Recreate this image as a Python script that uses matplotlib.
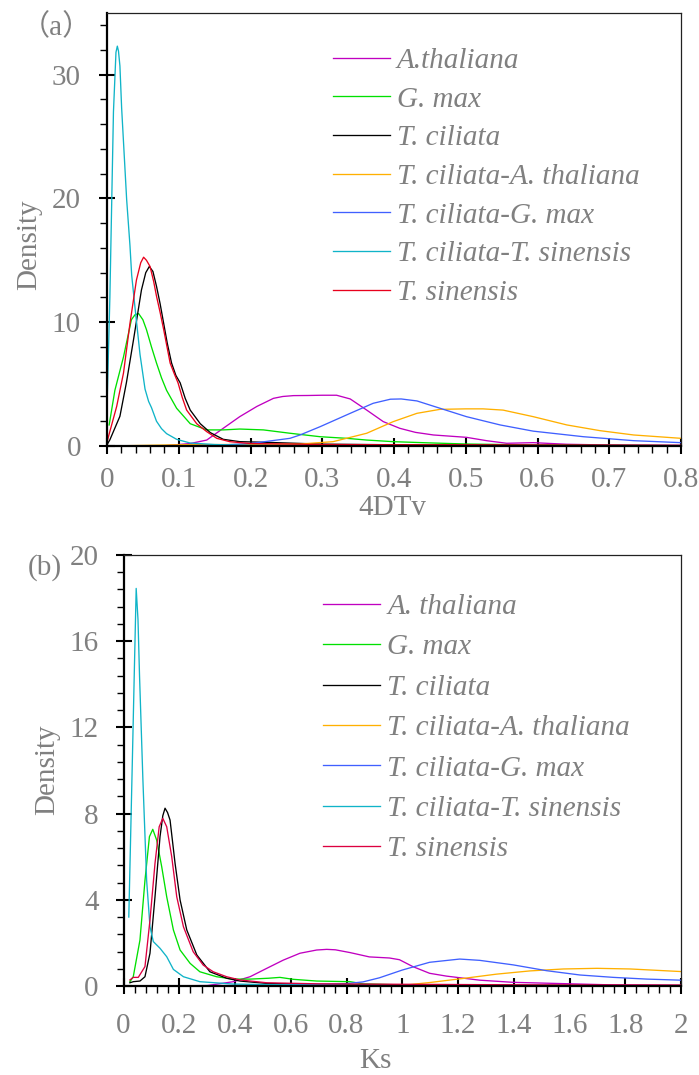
import matplotlib
matplotlib.use("Agg")
import matplotlib.pyplot as plt
from matplotlib.ticker import MultipleLocator, FixedLocator

# ---------------- data: panel (a) 4DTv ----------------
labels_a = ["A.thaliana", "G. max", "T. ciliata", "T. ciliata-A. thaliana",
            "T. ciliata-G. max", "T. ciliata-T. sinensis", "T. sinensis"]

a_ath_x = [0.018, 0.08, 0.116, 0.139, 0.162, 0.185, 0.209, 0.232, 0.245, 0.26, 0.28, 0.3, 0.32, 0.339, 0.362, 0.385, 0.408, 0.43, 0.455, 0.501, 0.529, 0.557, 0.594, 0.641, 0.7, 0.8]
a_ath_y = [0.0, 0.02, 0.2, 0.48, 1.43, 2.37, 3.2, 3.85, 4.0, 4.07, 4.08, 4.1, 4.1, 3.8, 2.9, 1.97, 1.43, 1.1, 0.89, 0.7, 0.43, 0.22, 0.27, 0.14, 0.08, 0.05]

a_gma_x = [0.003, 0.011, 0.023, 0.034, 0.039, 0.044, 0.05, 0.055, 0.062, 0.069, 0.076, 0.083, 0.097, 0.116, 0.139, 0.162, 0.185, 0.218, 0.255, 0.297, 0.334, 0.362, 0.399, 0.45, 0.501, 0.6, 0.7, 0.8]
a_gma_y = [1.7, 4.5, 7.2, 10.2, 10.6, 10.7, 10.2, 9.4, 8.0, 6.7, 5.5, 4.5, 3.05, 1.8, 1.3, 1.3, 1.37, 1.3, 1.03, 0.75, 0.62, 0.48, 0.35, 0.25, 0.16, 0.08, 0.05, 0.03]

a_tci_x = [0.0, 0.004, 0.018, 0.027, 0.037, 0.048, 0.054, 0.059, 0.064, 0.069, 0.074, 0.079, 0.084, 0.09, 0.096, 0.102, 0.109, 0.116, 0.13, 0.144, 0.162, 0.185, 0.22, 0.3, 0.4, 0.5, 0.6, 0.8]
a_tci_y = [0.1, 0.5, 2.4, 5.1, 8.6, 12.6, 14.0, 14.5, 14.1, 12.9, 11.5, 9.9, 8.3, 6.7, 5.7, 5.1, 3.85, 2.9, 1.8, 1.08, 0.54, 0.35, 0.3, 0.15, 0.1, 0.08, 0.05, 0.03]

a_tci_ath_x = [0.0, 0.1, 0.2, 0.269, 0.315, 0.362, 0.399, 0.432, 0.464, 0.5, 0.524, 0.552, 0.594, 0.641, 0.687, 0.734, 0.8]
a_tci_ath_y = [0.0, 0.1, 0.13, 0.16, 0.35, 1.03, 1.97, 2.64, 2.96, 3.0, 3.0, 2.9, 2.37, 1.7, 1.24, 0.89, 0.62]

a_tci_gma_x = [0.0, 0.1, 0.15, 0.2, 0.255, 0.269, 0.297, 0.339, 0.371, 0.395, 0.41, 0.432, 0.464, 0.501, 0.548, 0.594, 0.664, 0.734, 0.8]
a_tci_gma_y = [0.0, 0.02, 0.05, 0.2, 0.62, 0.89, 1.56, 2.64, 3.45, 3.78, 3.8, 3.64, 3.05, 2.37, 1.7, 1.2, 0.75, 0.43, 0.27]

a_tci_tsi_x = [0.0, 0.004, 0.009, 0.0125, 0.0144, 0.016, 0.018, 0.0204, 0.0274, 0.032, 0.0344, 0.039, 0.046, 0.053, 0.058, 0.062, 0.069, 0.076, 0.083, 0.097, 0.116, 0.15, 0.2, 0.3, 0.5, 0.8]
a_tci_tsi_y = [3.1, 12.0, 27.0, 31.8, 32.3, 31.9, 30.7, 27.3, 19.9, 16.2, 13.8, 11.2, 7.4, 4.6, 3.6, 3.1, 2.0, 1.4, 1.0, 0.54, 0.24, 0.12, 0.05, 0.03, 0.02, 0.01]

a_tsi_x = [0.0, 0.002, 0.0135, 0.023, 0.032, 0.041, 0.047, 0.051, 0.055, 0.06, 0.065, 0.069, 0.074, 0.079, 0.084, 0.088, 0.094, 0.099, 0.105, 0.111, 0.125, 0.139, 0.153, 0.171, 0.2, 0.3, 0.4, 0.6, 0.8]
a_tsi_y = [0.3, 0.75, 3.2, 5.9, 9.9, 13.4, 14.8, 15.25, 15.0, 14.5, 13.3, 12.1, 10.8, 9.4, 7.9, 6.7, 5.8, 5.1, 3.9, 2.9, 1.8, 1.16, 0.62, 0.35, 0.2, 0.12, 0.1, 0.08, 0.05]

# ---------------- data: panel (b) Ks ----------------
labels_b = ["A. thaliana", "G. max", "T. ciliata", "T. ciliata-A. thaliana",
            "T. ciliata-G. max", "T. ciliata-T. sinensis", "T. sinensis"]

b_ath_x = [0.05, 0.3, 0.394, 0.454, 0.514, 0.573, 0.633, 0.693, 0.729, 0.76, 0.813, 0.882, 0.954, 0.99, 1.038, 1.098, 1.158, 1.278, 1.398, 1.578, 1.758, 2.0]
b_ath_y = [0.0, 0.02, 0.2, 0.43, 0.82, 1.2, 1.52, 1.67, 1.7, 1.68, 1.55, 1.35, 1.3, 1.22, 0.9, 0.59, 0.46, 0.27, 0.17, 0.11, 0.05, 0.03]

b_gma_x = [0.023, 0.035, 0.059, 0.077, 0.093, 0.105, 0.119, 0.137, 0.155, 0.179, 0.203, 0.239, 0.274, 0.334, 0.394, 0.454, 0.52, 0.561, 0.609, 0.693, 0.813, 0.86, 1.0, 1.5, 2.0]
b_gma_y = [0.2, 0.43, 2.13, 4.9, 6.93, 7.27, 6.77, 5.54, 4.14, 2.6, 1.67, 1.05, 0.66, 0.43, 0.32, 0.32, 0.36, 0.4, 0.31, 0.23, 0.2, 0.1, 0.05, 0.02, 0.01]

b_tci_x = [0.023, 0.035, 0.059, 0.077, 0.095, 0.113, 0.131, 0.141, 0.149, 0.158, 0.167, 0.185, 0.203, 0.227, 0.263, 0.31, 0.37, 0.418, 0.514, 0.7, 1.0, 1.5, 2.0]
b_tci_y = [0.15, 0.2, 0.23, 0.43, 1.52, 4.14, 6.93, 7.9, 8.25, 8.05, 7.7, 5.69, 3.99, 2.6, 1.44, 0.66, 0.36, 0.23, 0.12, 0.07, 0.05, 0.03, 0.02]

b_tci_ath_x = [0.0, 0.5, 1.0, 1.098, 1.218, 1.338, 1.458, 1.578, 1.698, 1.818, 2.0]
b_tci_ath_y = [0.0, 0.02, 0.03, 0.16, 0.35, 0.55, 0.7, 0.79, 0.82, 0.79, 0.67]

b_tci_gma_x = [0.0, 0.5, 0.7, 0.8, 0.859, 0.918, 1.0, 1.098, 1.206, 1.278, 1.398, 1.518, 1.638, 1.758, 1.878, 2.0]
b_tci_gma_y = [0.0, 0.03, 0.08, 0.11, 0.19, 0.38, 0.74, 1.1, 1.25, 1.19, 0.98, 0.71, 0.51, 0.4, 0.32, 0.27]

b_tci_tsi_x = [0.019, 0.025, 0.032, 0.039, 0.0455, 0.052, 0.0575, 0.0695, 0.083, 0.095, 0.107, 0.131, 0.155, 0.179, 0.215, 0.274, 0.394, 0.6, 1.0, 2.0]
b_tci_tsi_y = [3.2, 6.6, 10.6, 14.7, 18.45, 17.0, 14.4, 9.6, 4.9, 2.75, 2.06, 1.75, 1.36, 0.77, 0.43, 0.2, 0.09, 0.05, 0.02, 0.01]

b_tsi_x = [0.023, 0.035, 0.053, 0.077, 0.095, 0.113, 0.128, 0.141, 0.155, 0.173, 0.191, 0.215, 0.25, 0.286, 0.322, 0.37, 0.418, 0.514, 0.7, 1.0, 1.5, 2.0]
b_tsi_y = [0.28, 0.4, 0.4, 0.9, 3.06, 5.69, 7.39, 7.78, 7.39, 6.0, 4.14, 2.75, 1.59, 0.97, 0.66, 0.43, 0.28, 0.15, 0.1, 0.08, 0.05, 0.04]

# ---------------- styling ----------------
colors_a = ["#C000C0", "#00E000", "#000000", "#FFB000", "#4060FF", "#10B4C8", "#E8001C"]
colors_b = ["#C000C0", "#00E000", "#000000", "#FFB000", "#4060FF", "#10B4C8", "#DC0040"]
GREY = "#808080"
FONT = "Liberation Serif"
FS = 21
LW = 0.95

plt.rcParams["font.family"] = [FONT, "DejaVu Serif"]

W, H = 699, 1075
fig = plt.figure(figsize=(W / 100, H / 100), dpi=100)


def px_axes(l, t, r, b):
    return [l / W, 1 - b / H, (r - l) / W, (b - t) / H]


def style_axis(ax, xpad, ypad):
    for s in ["left", "bottom"]:
        ax.spines[s].set_linewidth(1.6)
        ax.spines[s].set_color("black")
    for s in ["top", "right"]:
        ax.spines[s].set_linewidth(0.9)
        ax.spines[s].set_color("#222222")
    ax.tick_params(which="major", direction="inout", length=11.5, width=1.5,
                   labelsize=FS, labelcolor=GREY, color="black")
    ax.tick_params(which="minor", direction="out", length=5, width=1.0, color="black")
    ax.tick_params(axis="x", which="major", pad=xpad)
    ax.tick_params(axis="y", which="major", pad=ypad)
    ax.tick_params(top=False, right=False, which="both")


leg_prop = {"family": FONT, "style": "italic", "size": FS}

# ---------------- panel (a) ----------------
ax1 = fig.add_axes(px_axes(107, 12.7, 681, 446))
series_a = [(a_ath_x, a_ath_y), (a_gma_x, a_gma_y), (a_tci_x, a_tci_y),
            (a_tci_ath_x, a_tci_ath_y), (a_tci_gma_x, a_tci_gma_y),
            (a_tci_tsi_x, a_tci_tsi_y), (a_tsi_x, a_tsi_y)]
for (xs, ys), c, lab in zip(series_a, colors_a, labels_a):
    ax1.plot(xs, ys, color=c, lw=LW, label=lab)
ax1.set_xlim(0, 0.8)
ax1.set_ylim(0, 35)
ax1.set_xticks([0, 0.1, 0.2, 0.3, 0.4, 0.5, 0.6, 0.7, 0.8])
ax1.set_xticklabels(["0", "0.1", "0.2", "0.3", "0.4", "0.5", "0.6", "0.7", "0.8"])
ax1.xaxis.set_minor_locator(MultipleLocator(0.02))
ax1.yaxis.set_major_locator(FixedLocator([0, 10, 20, 30]))
ax1.yaxis.set_minor_locator(MultipleLocator(2))
style_axis(ax1, xpad=9.5, ypad=13)
ax1.set_xlabel("4DTv", fontsize=FS, color=GREY, va="center")
ax1.xaxis.set_label_coords((392 - 107) / 574, (446 - 508) / 433.3)
ax1.set_ylabel("Density", fontsize=FS, color=GREY, va="center", ha="center")
ax1.yaxis.set_label_coords((29.5 - 107) / 574, (446 - 245) / 433.3)
ax1.legend(loc="upper left", bbox_to_anchor=((333 - 107) / 574, (446 - 47.5) / 433.3),
           frameon=False, borderpad=0, borderaxespad=0, handlelength=1.95,
           handletextpad=0.24, labelspacing=0.42, prop=leg_prop, labelcolor=GREY)

fig.text(56 / W, 1 - 27 / H, "（a）", fontsize=FS, color=GREY, ha="center", va="center",
         family=[FONT, "Noto Sans CJK SC"])

# ---------------- panel (b) ----------------
ax2 = fig.add_axes(px_axes(123.5, 555, 681, 986))
series_b = [(b_ath_x, b_ath_y), (b_gma_x, b_gma_y), (b_tci_x, b_tci_y),
            (b_tci_ath_x, b_tci_ath_y), (b_tci_gma_x, b_tci_gma_y),
            (b_tci_tsi_x, b_tci_tsi_y), (b_tsi_x, b_tsi_y)]
for (xs, ys), c, lab in zip(series_b, colors_b, labels_b):
    ax2.plot(xs, ys, color=c, lw=LW, label=lab)
ax2.set_xlim(0, 2)
ax2.set_ylim(0, 20)
ax2.set_xticks([0, 0.2, 0.4, 0.6, 0.8, 1.0, 1.2, 1.4, 1.6, 1.8, 2.0])
ax2.set_xticklabels(["0", "0.2", "0.4", "0.6", "0.8", "1", "1.2", "1.4", "1.6", "1.8", "2"])
ax2.xaxis.set_minor_locator(MultipleLocator(0.04))
ax2.set_yticks([0, 4, 8, 12, 16, 20])
ax2.yaxis.set_minor_locator(MultipleLocator(0.8))
style_axis(ax2, xpad=13.5, ypad=12)
ax2.set_xlabel("Ks", fontsize=FS, color=GREY, va="center")
ax2.xaxis.set_label_coords((375 - 123.5) / 557.5, (986 - 1061) / 431)
ax2.set_ylabel("Density", fontsize=FS, color=GREY, va="center", ha="center")
ax2.yaxis.set_label_coords((47.5 - 123.5) / 557.5, (986 - 770) / 431)
ax2.legend(loc="upper left", bbox_to_anchor=((323.3 - 123.5) / 557.5, (986 - 593.5) / 431),
           frameon=False, borderpad=0, borderaxespad=0, handlelength=1.95,
           handletextpad=0.24, labelspacing=0.48, prop=leg_prop, labelcolor=GREY)

fig.text(45 / W, 1 - 568 / H, "(b)", fontsize=FS, color=GREY, ha="center", va="center",
         family=FONT)

fig.savefig("out.png", dpi=100)
